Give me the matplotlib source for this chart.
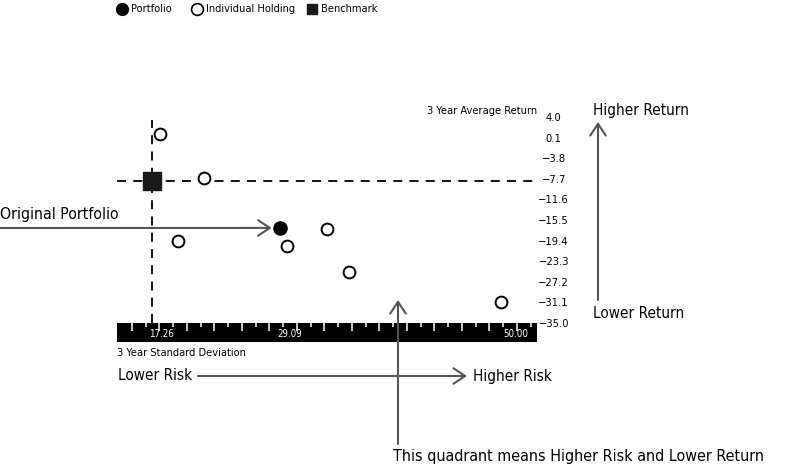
import os
import numpy as np
import matplotlib
matplotlib.use("Agg")
import matplotlib.pyplot as plt
from matplotlib.lines import Line2D
from matplotlib.patches import FancyArrowPatch
from matplotlib import font_manager as fm

# pick a narrow/condensed font if installed
chosen = None
prefs = ['LiberationSansNarrow-Regular', 'DejaVuSansCondensed.ttf']
files = [f.fname for f in fm.fontManager.ttflist]
for p in prefs:
    for fn in files:
        if p.lower() in os.path.basename(fn).lower():
            chosen = fn
            break
    if chosen:
        break
if chosen:
    fm.fontManager.addfont(chosen)
    fam = fm.FontProperties(fname=chosen).get_name()
    plt.rcParams['font.family'] = [fam, 'DejaVu Sans']
    if 'DejaVu' in os.path.basename(chosen):
        plt.rcParams['font.stretch'] = 'condensed'
else:
    plt.rcParams['font.family'] = ['DejaVu Sans']

# ---------------- data ----------------
portfolio_x = [29.09]
portfolio_y = [-17.0]
benchmark_x = [17.26]
benchmark_y = [-8.2]
holding_x = [18.0, 22.07, 19.66, 29.74, 33.43, 35.47, 49.5]
holding_y = [0.8, -7.55, -19.5, -20.4, -17.2, -25.3, -31.0]
y_ticks = [4.0, 0.1, -3.8, -7.7, -11.6, -15.5, -19.4, -23.3, -27.2, -31.1, -35.0]
x_labels = [17.26, 29.09, 50.00]
legend_labels = ["Portfolio", "Individual Holding", "Benchmark"]
x_lim = (14.03, 52.84)

W, H = 800, 475
fig = plt.figure(figsize=(8, 4.75), dpi=100)

def fx(x):
    return x / W

def fy(y):
    return (H - y) / H

ax = fig.add_axes([fx(117), fy(323), 420 / W, (323 - 117) / H])
ax.set_xlim(*x_lim)
ax.set_ylim(-35.0, 4.0)
for s in ax.spines.values():
    s.set_visible(False)
ax.set_xticks([])
ax.yaxis.tick_right()
ax.set_yticks(y_ticks)
ax.set_yticklabels([f"{v:.1f}".replace('-', '\u2212') for v in y_ticks])
ax.tick_params(axis='y', length=0, pad=12, labelsize=8)
for lab in ax.get_yticklabels():
    lab.set_horizontalalignment('center')

ax.axvline(benchmark_x[0], color='black', lw=1.3, ls=(0, (5, 4)), zorder=1, ymax=0.985)
ax.axhline(benchmark_y[0], color='black', lw=1.3, ls=(0, (5, 4)), zorder=1)

ax.scatter(holding_x, holding_y, s=72, facecolors='white', edgecolors='black',
           linewidths=1.4, zorder=3)
ax.scatter(portfolio_x, portfolio_y, s=90, color='black', zorder=3)
ax.scatter(benchmark_x, benchmark_y, s=160, marker='s', color='#1a1a1a', zorder=3)

fig.text(fx(537), fy(111), "3 Year Average Return", ha='right', va='center', fontsize=7.9)

# ------------- black x bar ---------------
bx = fig.add_axes([fx(117), fy(342), 420 / W, 19 / H])
bx.set_facecolor('black')
bx.set_xlim(*x_lim)
bx.set_ylim(0, 1)
bx.set_yticks([])
for s in bx.spines.values():
    s.set_visible(False)
tick_pos = np.arange(15.41, 52.5, 1.27)
bx.set_xticks(tick_pos[::2])
bx.set_xticks(tick_pos[1::2], minor=True)
bx.xaxis.tick_top()
bx.tick_params(axis='x', which='major', direction='in', length=5.5, width=1.1,
               color='white', labeltop=False, labelbottom=False)
bx.tick_params(axis='x', which='minor', direction='in', length=3, width=1.1,
               color='white', labeltop=False, labelbottom=False)
for v in x_labels:
    bx.annotate(f"{v:.2f}", xy=(v, 0.4), xytext=(-2, 0), textcoords='offset points',
                ha='left', va='center', color='white', fontsize=7)

fig.text(fx(117), fy(353), "3 Year Standard Deviation", ha='left', va='center', fontsize=7.9)

# ------------- legend (manual) ---------------
leg_marker_x = [122, 197, 312]
leg_styles = [
    dict(marker='o', markersize=8.5, color='black'),
    dict(marker='o', markersize=8.5, markerfacecolor='white', markeredgecolor='black',
         markeredgewidth=1.2),
    dict(marker='s', markersize=7, color='#1a1a1a'),
]
for mx, st, lab in zip(leg_marker_x, leg_styles, legend_labels):
    fig.add_artist(Line2D([fx(mx)], [fy(9)], transform=fig.transFigure, ls='none', **st))
    fig.text(fx(mx + 9), fy(9), lab, ha='left', va='center', fontsize=7.9)

# ------------- annotations ---------------
grey = '#555555'
astyle = '->,head_length=0.6,head_width=0.4'
big = 11

# Original portfolio
fig.text(fx(0), fy(214), "Original Portfolio", ha='left', va='center', fontsize=11.3)
ax.annotate("", xy=(portfolio_x[0], portfolio_y[0]), xytext=(fx(0), fy(228)),
            textcoords='figure fraction',
            arrowprops=dict(arrowstyle=astyle, color=grey, lw=1.5, shrinkA=0, shrinkB=6,
                            mutation_scale=14))

def arrow(p0, p1):
    fig.add_artist(FancyArrowPatch((fx(p0[0]), fy(p0[1])), (fx(p1[0]), fy(p1[1])),
                                   transform=fig.transFigure, arrowstyle=astyle,
                                   color=grey, lw=1.5, mutation_scale=14,
                                   shrinkA=0, shrinkB=0))

# Risk arrow
fig.text(fx(118), fy(376), "Lower Risk", ha='left', va='center', fontsize=big)
fig.text(fx(473), fy(376), "Higher Risk", ha='left', va='center', fontsize=big)
arrow((198, 376), (467, 376))

# Return arrow
fig.text(fx(593), fy(110), "Higher Return", ha='left', va='center', fontsize=big)
fig.text(fx(593), fy(313), "Lower Return", ha='left', va='center', fontsize=big)
arrow((598, 300), (598, 122))

# Quadrant arrow
fig.text(fx(393), fy(457), "This quadrant means Higher Risk and Lower Return",
         ha='left', va='center', fontsize=11.5)
arrow((398, 444), (398, 300))

fig.savefig("out.png", dpi=100)
